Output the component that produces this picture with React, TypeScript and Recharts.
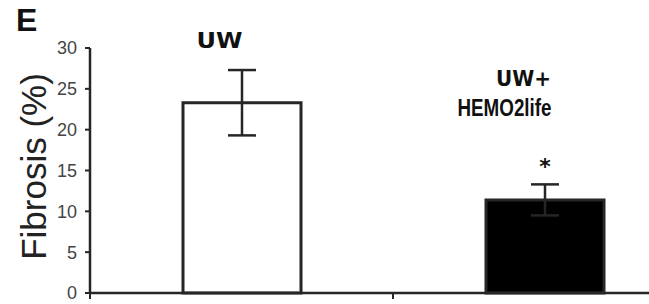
import React from 'react';
import { BarChart, Bar, XAxis, YAxis, Cell, ErrorBar, LabelList } from 'recharts';

// groups, left to right
const groups = ['UW', 'UW+ HEMO2life'];
const groupLines = [['UW'], ['UW+', 'HEMO2life']];
const fibrosis = [23.3, 11.4];
const sem = [4.0, 1.9];
const significance = ['', '*'];
const barFills = ['#ffffff', '#000000'];
const yTicks = [0, 5, 10, 15, 20, 25, 30];

const data = groups.map((name, i) => ({
    name,
    pos: i + 0.5,
    fibrosis: fibrosis[i],
    sem: sem[i],
    sig: significance[i],
}));

const INK = '#262626';
const DEJAVU = "'DejaVu Sans', sans-serif";
const ARIAL = "'Liberation Sans', Arial, sans-serif";

// group labels sit a little left of the bar centre in the figure
const lineLayout = [
    [{ dx: -22, y: 48, w: 46, font: DEJAVU, size: 22 }],
    [
        { dx: -21, y: 86, w: 55, font: DEJAVU, size: 22 },
        { dx: -40, y: 116, w: 94, font: ARIAL, size: 24 },
    ],
];

const TopTick = (props: any) => {
    const { x, payload } = props;
    const idx = Math.floor(payload.value);
    const lines = groupLines[idx] || [];
    return (
        <g>
            {lines.map((ln, j) => (
                <text
                    key={j}
                    x={x + lineLayout[idx][j].dx}
                    y={lineLayout[idx][j].y}
                    textAnchor="middle"
                    textLength={lineLayout[idx][j].w}
                    lengthAdjust="spacingAndGlyphs"
                    fontFamily={lineLayout[idx][j].font}
                    fontWeight="bold"
                    fontSize={lineLayout[idx][j].size}
                    fill="#111"
                >
                    {ln}
                </text>
            ))}
        </g>
    );
};

const StarLabel = (props: any) => {
    const { x, y, width, height, value, index } = props;
    if (!value) return null;
    const v = fibrosis[index];
    const pxPerUnit = v ? height / v : 0;
    const top = y - sem[index] * pxPerUnit;
    return (
        <text
            x={x + width / 2}
            y={top - 10}
            textAnchor="middle"
            fontFamily={DEJAVU}
            fontWeight="bold"
            fontSize={22}
            fill="#111"
        >
            {value}
        </text>
    );
};

const YLabel = (props: any) => {
    const { viewBox } = props;
    const cx = viewBox.x + 33;
    const cy = viewBox.y + viewBox.height / 2 - 4;
    return (
        <text
            x={cx}
            y={cy}
            transform={`rotate(-90, ${cx}, ${cy})`}
            textAnchor="middle"
            dominantBaseline="central"
            fontFamily={ARIAL}
            fontSize={35}
            fill="#222"
        >
            Fibrosis (%)
        </text>
    );
};

export default function App() {
    return (
        <div style={{ position: 'absolute', left: 0, top: 0, width: 649, height: 304, overflow: 'hidden', background: '#fff' }}>
            <div
                style={{
                    position: 'absolute',
                    left: 16,
                    top: 2,
                    fontFamily: ARIAL,
                    fontWeight: 'bold',
                    fontSize: 32,
                    color: '#111',
                    lineHeight: '36px',
                }}
            >
                E
            </div>
            <BarChart
                width={696}
                height={304}
                data={data}
                margin={{ top: 0, right: 0, left: 0, bottom: 0 }}
            >
                <XAxis
                    xAxisId="main"
                    dataKey="pos"
                    type="number"
                    domain={[0, 2]}
                    allowDataOverflow
                    ticks={[0, 1, 2]}
                    tickFormatter={() => ''}
                    height={11}
                    axisLine={{ stroke: INK, strokeWidth: 2.5 }}
                    tickLine={{ stroke: INK, strokeWidth: 2 }}
                    tickSize={6}
                />
                <XAxis
                    xAxisId="top"
                    dataKey="pos"
                    orientation="top"
                    type="number"
                    domain={[0, 2]}
                    allowDataOverflow
                    ticks={[0.5, 1.5]}
                    height={48}
                    axisLine={false}
                    tickLine={false}
                    tick={<TopTick />}
                />
                <YAxis
                    width={90}
                    domain={[0, 30]}
                    ticks={yTicks}
                    interval={0}
                    tickSize={5}
                    tickMargin={8}
                    axisLine={{ stroke: INK, strokeWidth: 2.5 }}
                    tickLine={{ stroke: INK, strokeWidth: 2 }}
                    tick={{ fill: '#444', fontSize: 18, fontFamily: ARIAL }}
                    label={<YLabel />}
                />
                <Bar
                    xAxisId="main"
                    dataKey="fibrosis"
                    barSize={118}
                    stroke={INK}
                    strokeWidth={3}
                    isAnimationActive={false}
                >
                    {data.map((d, i) => (
                        <Cell key={d.name} fill={barFills[i]} />
                    ))}
                    <ErrorBar dataKey="sem" width={14} stroke={INK} strokeWidth={2.5} direction="y" />
                    <LabelList dataKey="sig" content={<StarLabel />} />
                </Bar>
            </BarChart>
        </div>
    );
}
